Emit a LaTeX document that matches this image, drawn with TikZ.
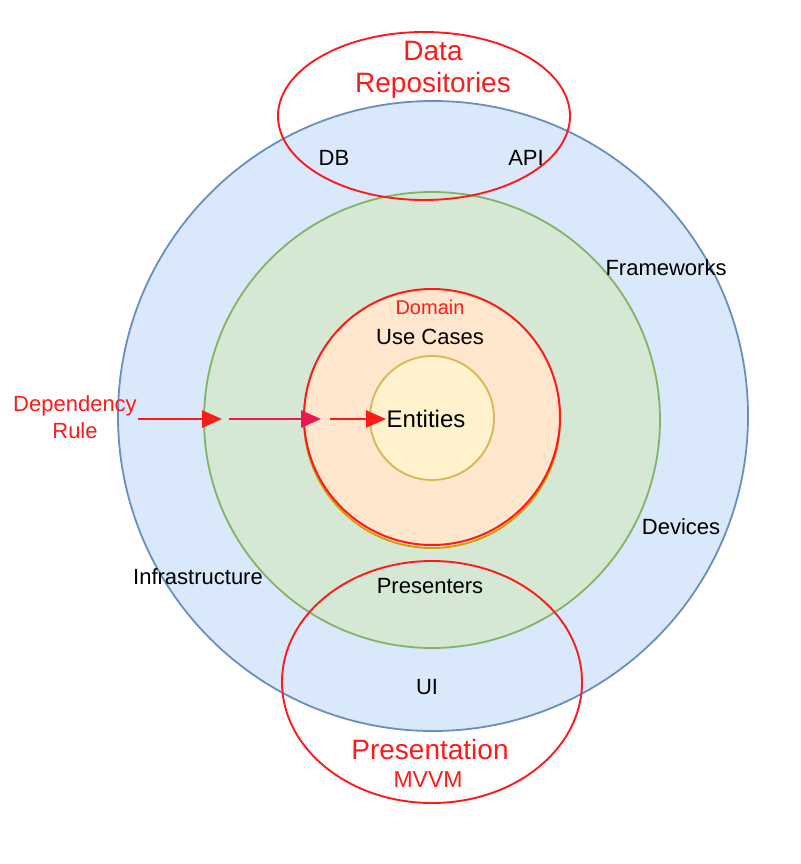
\documentclass[tikz,border=0pt]{standalone}
\usepackage{fontspec}
\setmainfont{Liberation Sans}
\usetikzlibrary{arrows.meta,shapes.geometric}

\definecolor{outerfill}{HTML}{DAE8FC}
\definecolor{outerline}{HTML}{6C8EBF}
\definecolor{midfill}{HTML}{D5E8D4}
\definecolor{midline}{HTML}{82B366}
\definecolor{domfill}{HTML}{FFE6CC}
\definecolor{domline}{HTML}{D79B00}
\definecolor{entfill}{HTML}{FFF2CC}
\definecolor{entline}{HTML}{D6B656}
\definecolor{rulered}{HTML}{FF1A1A}
\definecolor{rulepink}{HTML}{EE1650}

\tikzset{
ring/.style={circle, line width=1.8pt, inner sep=0pt},
zone/.style={ellipse, draw=rulered, line width=1.9pt, inner sep=0pt},
txt/.style={inner sep=0pt, font=\fontsize{22}{27}\selectfont},
redtxt/.style={txt, text=rulered, align=center},
bigtxt/.style={redtxt, font=\fontsize{28}{32}\selectfont},
rule/.style={line width=2.6pt, -{Triangle[length=20pt,width=17pt]}}
}

\begin{document}
\begin{tikzpicture}[x=1pt,y=-1pt]
\useasboundingbox (0,0) rectangle (800,864);

% rings
\node[ring, fill=outerfill, draw=outerline, minimum size=630pt] (frameworks) at (433,416) {};
\node[ring, fill=midfill, draw=midline, minimum size=456pt] (adapters) at (432,420) {};
\node[ring, fill=domfill, draw=domline, minimum size=256pt] (domainedge) at (432,420) {};
\node[ring, fill=domfill, draw=rulered, line width=2pt, minimum size=256pt] (domain) at (432,417) {};
\node[ring, fill=entfill, draw=entline, minimum size=124pt] (entities) at (432,418) {};

% layers
\node[zone, minimum width=292pt, minimum height=168pt] (data) at (424,116) {};
\node[zone, minimum width=300pt, minimum height=242pt] (presentation) at (432,682) {};

% labels
\node[bigtxt] (datatxt) at (433,70) {Data\\Repositories};
\node[txt] (db) at (334,158) {DB};
\node[txt] (api) at (526,158) {API};
\node[txt] (fw) at (666,268) {Frameworks};
\node[txt] (dev) at (681,527) {Devices};
\node[txt] (infra) at (198,577) {Infrastructure};
\node[txt] (pres) at (430,586) {Presenters};
\node[txt] (ui) at (427,687) {UI};
\node[redtxt, font=\fontsize{20}{24}\selectfont] (dom) at (430,307) {Domain};
\node[txt] (uc) at (430,337) {Use Cases};
\node[txt, font=\fontsize{24}{28}\selectfont] (ent) at (426,419) {Entities};
\node[redtxt] (dep) at (75,417) {Dependency\\Rule};
\node[bigtxt] (prestxt) at (430,749) {Presentation};
\node[redtxt, font=\fontsize{23}{28}\selectfont] (mvvm) at (428,780) {MVVM};

% dependency rule
\coordinate (a0) at (138,419);
\coordinate (a1) at (222,419);
\coordinate (b0) at (229,419);
\coordinate (b1) at (321,419);
\coordinate (c0) at (330,419);
\coordinate (c1) at (386,419);
\draw[rule, draw=rulered, fill=rulered] (a0) -- (a1);
\draw[rule, draw=rulepink, fill=rulepink] (b0) -- (b1);
\draw[rule, draw=rulered, fill=rulered] (c0) -- (c1);

\end{tikzpicture}
\end{document}
